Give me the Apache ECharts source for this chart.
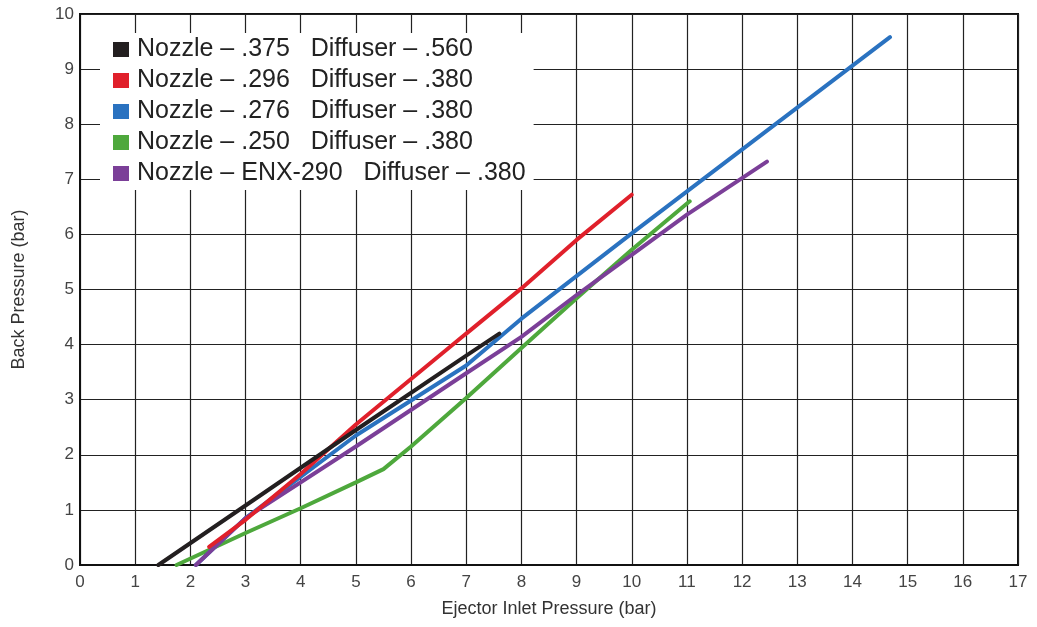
<!DOCTYPE html>
<html>
<head>
<meta charset="utf-8">
<script src="https://cdn.jsdelivr.net/npm/echarts@6/dist/echarts.min.js"></script>
<style>
html,body{margin:0;padding:0;background:#fff;}
#chart{width:1037px;height:627px;}
</style>
</head>
<body>
<div id="chart"></div>
<script>
const seriesNames = [
  "Nozzle – .375   Diffuser – .560",
  "Nozzle – .296   Diffuser – .380",
  "Nozzle – .276   Diffuser – .380",
  "Nozzle – .250   Diffuser – .380",
  "Nozzle – ENX-290   Diffuser – .380"
];
const seriesColors = ["#231f20", "#e0202b", "#2a72c0", "#4ea83c", "#7b3f98"];

const nozzle375 = [[1.42,0],[3,1.08],[5,2.45],[7,3.8],[7.6,4.2]];
const nozzle296 = [[2.34,0.33],[3,0.82],[4,1.65],[5,2.55],[7,4.2],[8,5.02],[9,5.9],[10.0,6.72]];
const nozzle276 = [[2.1,0],[3,0.85],[5,2.35],[7,3.62],[8,4.47],[10,6.02],[14.68,9.58]];
const nozzle250 = [[1.75,0],[3,0.58],[4,1.03],[5,1.5],[5.5,1.74],[6,2.15],[7,3.03],[8,3.94],[9,4.84],[10,5.72],[11.05,6.6]];
const nozzleENX = [[2.1,0],[3,0.85],[5,2.15],[7,3.48],[8,4.14],[9,4.9],[10,5.63],[11,6.36],[12.45,7.32]];

const xTicks = {min:0, max:17, interval:1};
const yTicks = {min:0, max:10, interval:1};
const xName = "Ejector Inlet Pressure (bar)";
const yName = "Back Pressure (bar)";

const dataSets = [nozzle375, nozzle296, nozzle276, nozzle250, nozzleENX];
const drawOrder = [3, 2, 4, 1, 0];

const chart = echarts.init(document.getElementById('chart'), null, {renderer:'canvas'});
const font = "'Liberation Sans', Arial, Helvetica, sans-serif";
const series = drawOrder.map((i, k) => ({
  name: seriesNames[i],
  type: 'line',
  data: dataSets[i],
  showSymbol: false,
  symbol: 'none',
  color: seriesColors[i],
  lineStyle: {width: 4, color: seriesColors[i], cap: 'round'},
  z: 3 + k,
  animation: false
}));

chart.setOption({
  animation: false,
  backgroundColor: '#ffffff',
  textStyle: {fontFamily: font},
  grid: {left: 80, right: 19, top: 14, bottom: 62, show: true, borderColor: '#111', borderWidth: 2, backgroundColor: 'transparent'},
  legend: {
    data: seriesNames,
    orient: 'vertical',
    left: 100,
    top: 33,
    icon: 'rect',
    itemWidth: 16,
    itemHeight: 15,
    itemGap: 6,
    padding: [4, 8, 4, 13],
    backgroundColor: '#ffffff',
    textStyle: {fontSize: 25, color: '#222', fontFamily: font, padding: [0,0,0,3]},
    z: 10
  },
  xAxis: {
    type: 'value', min: xTicks.min, max: xTicks.max, interval: xTicks.interval,
    name: xName, nameLocation: 'middle', nameGap: 35,
    nameTextStyle: {fontSize: 18, color: '#333', fontFamily: font},
    axisLine: {show: true, lineStyle: {color: '#111', width: 2}},
    axisTick: {show: false},
    axisLabel: {fontSize: 17, color: '#444', margin: 9, fontFamily: font},
    splitLine: {show: true, lineStyle: {color: '#222', width: 1.2}}
  },
  yAxis: {
    type: 'value', min: yTicks.min, max: yTicks.max, interval: yTicks.interval,
    name: yName, nameLocation: 'middle', nameGap: 52,
    nameTextStyle: {fontSize: 18, color: '#333', fontFamily: font},
    axisLine: {show: true, lineStyle: {color: '#111', width: 2}},
    axisTick: {show: false},
    axisLabel: {fontSize: 17, color: '#444', margin: 6, fontFamily: font},
    splitLine: {show: true, lineStyle: {color: '#222', width: 1.2}}
  },
  series: series
});
</script>
</body>
</html>
